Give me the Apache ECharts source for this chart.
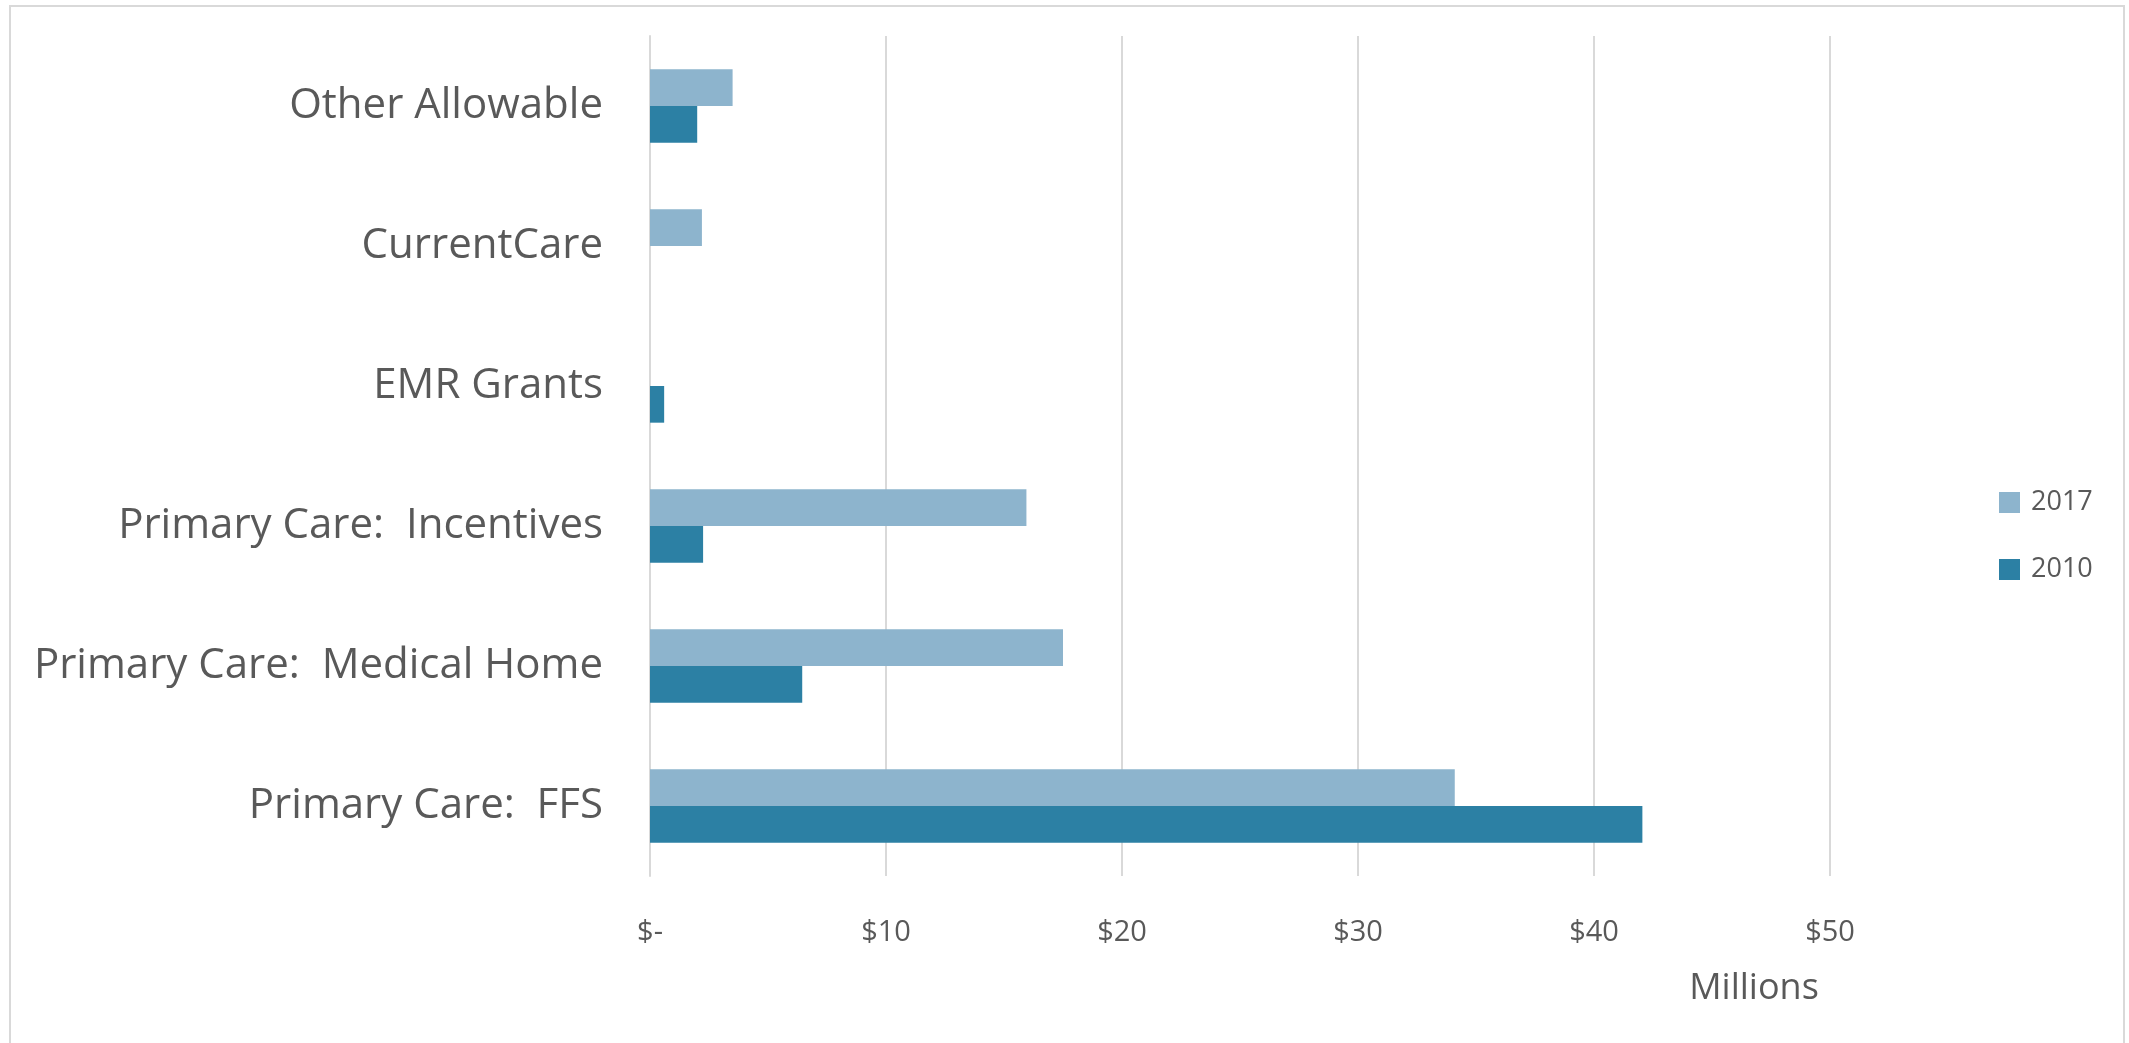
<!DOCTYPE html>
<html lang="en">
  <head>
    <meta charset="UTF-8" />
    <title>Primary care spending, 2010 vs 2017</title>
    <script src="https://cdn.jsdelivr.net/npm/echarts@6/dist/echarts.min.js"></script>
    <style>
      * { margin: 0; padding: 0; box-sizing: border-box; }
      html, body { width: 100%; height: 100%; background: #fff; }
      #chart { width: 2129px; height: 1043px; }
    </style>
  </head>
  <body>
    <div id="chart"></div>
    <script>
      /* ---------- data (millions of dollars), bottom to top ---------- */
      const categories = [
        "Primary Care:  FFS",
        "Primary Care:  Medical Home",
        "Primary Care:  Incentives",
        "EMR Grants",
        "CurrentCare",
        "Other Allowable",
      ];
      const values2010 = [42.05, 6.45, 2.25, 0.6, null, 2.0];
      const values2017 = [34.1, 17.5, 15.95, null, 2.2, 3.5];
      const xTicks = [0, 10, 20, 30, 40, 50];

      const textColor = "#595959";
      const gridColor = "#d9d9d9";
      const color2017 = "#8db4cd";
      const color2010 = "#2c80a4";

      const chart = echarts.init(document.getElementById("chart"), null, {
        renderer: "canvas",
      });

      chart.setOption({
        backgroundColor: "#fff",
        animation: false,
        grid: { left: 650, right: 299, top: 36, bottom: 167 },
        legend: {
          orient: "vertical",
          left: 1994,
          top: 484,
          data: ["2017", "2010"],
          icon: "rect",
          itemWidth: 21,
          itemHeight: 21,
          itemGap: 40,
          textStyle: {
            color: textColor,
            fontFamily: "Open Sans",
            fontSize: 27,
            lineHeight: 21,
            padding: [0, 0, 0, 6],
          },
        },
        xAxis: {
          type: "value",
          min: xTicks[0],
          max: xTicks[xTicks.length - 1],
          interval: 10,
          axisLine: { show: false },
          axisTick: { show: false },
          splitLine: { lineStyle: { color: gridColor, width: 2 } },
          axisLabel: {
            color: textColor,
            fontFamily: "Open Sans",
            fontSize: 29,
            margin: 42,
            formatter: (v) => (v === 0 ? "$-" : "$" + v),
          },
        },
        yAxis: {
          type: "category",
          data: categories,
          axisLine: { show: true, lineStyle: { color: gridColor, width: 2 } },
          axisTick: { show: false },
          axisLabel: {
            color: textColor,
            fontFamily: "Open Sans",
            fontSize: 42,
            margin: 47,
          },
        },
        graphic: [
          {
            type: "rect",
            shape: { x: 10, y: 6, width: 2114, height: 1045 },
            style: { fill: "none", stroke: gridColor, lineWidth: 2 },
            silent: true,
          },
          {
            type: "text",
            x: 1754,
            y: 989,
            style: {
              text: "Millions",
              fill: textColor,
              font: '36px "Open Sans"',
              textAlign: "center",
              textVerticalAlign: "middle",
            },
          },
        ],
        series: [
          {
            name: "2017",
            type: "bar",
            data: values2017,
            barGap: "0%",
            barCategoryGap: "47.6%",
            itemStyle: { color: color2017 },
          },
          {
            name: "2010",
            type: "bar",
            data: values2010,
            barGap: "0%",
            barCategoryGap: "47.6%",
            itemStyle: { color: color2010 },
          },
        ],
      });
    </script>
  </body>
</html>
